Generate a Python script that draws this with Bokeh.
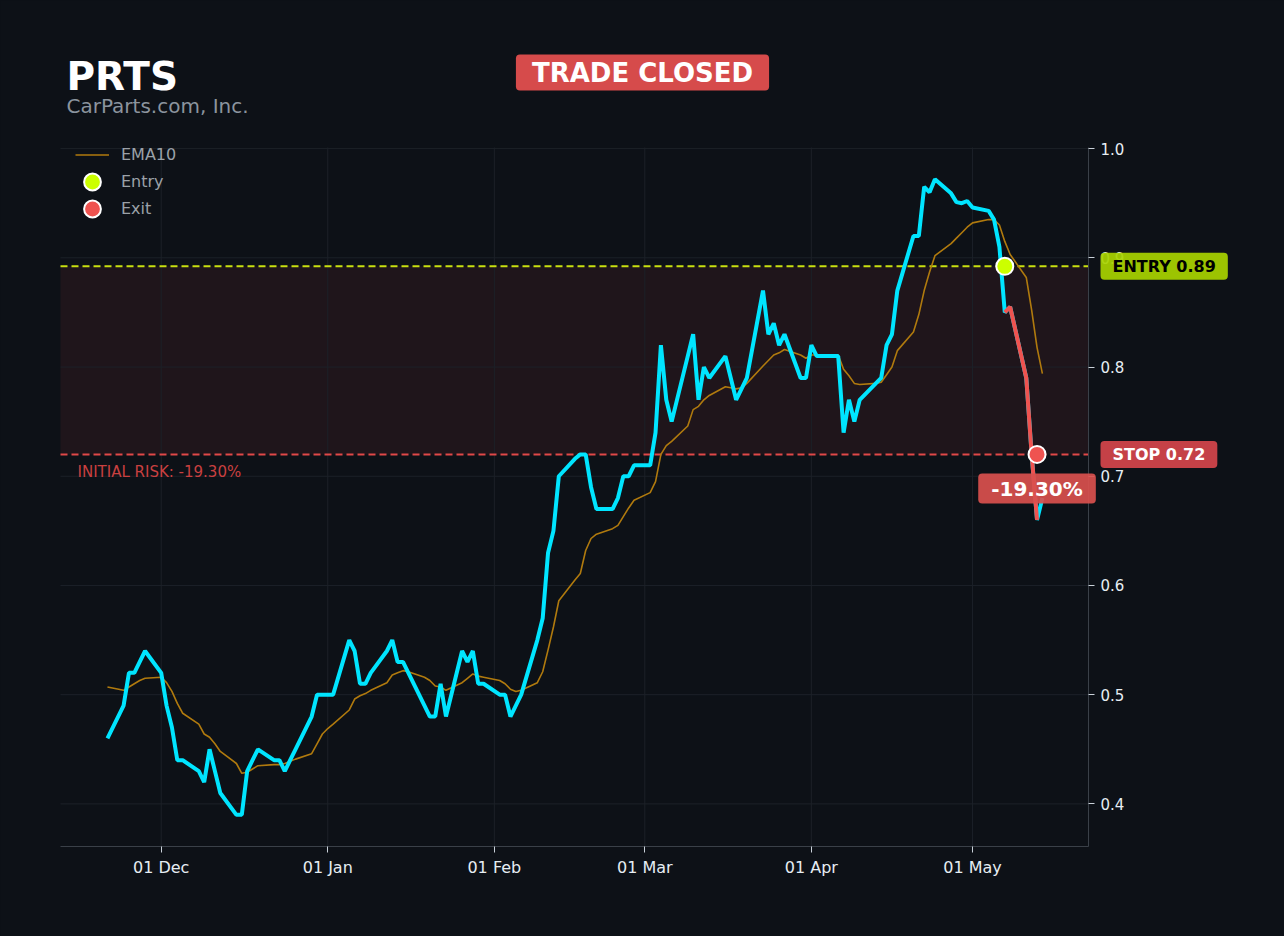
import pandas as pd
from bokeh.plotting import figure
from bokeh.models import (ColumnDataSource, Range1d, FixedTicker, PrintfTickFormatter,
                          DatetimeTickFormatter, BoxAnnotation, Label, Legend, LegendItem)
from bokeh.embed import file_html
from bokeh.resources import INLINE

# ---------------- data ----------------
symbol = "PRTS"
company = "CarParts.com, Inc."
status = "TRADE CLOSED"

# trading sessions 22 Nov 2024 - 15 May 2025 (weekdays)
sessions = pd.bdate_range("2024-11-22", "2025-05-15")

close_nov = [0.46, 0.49, 0.52, 0.52, 0.53, 0.54]
close_dec = [0.52, 0.49, 0.47, 0.44, 0.44,
             0.43, 0.42, 0.45, 0.43, 0.41,
             0.39, 0.39, 0.43, 0.44, 0.45,
             0.44, 0.44, 0.43, 0.44, 0.45,
             0.48, 0.50]
close_jan = [0.50, 0.50, 0.50,
             0.55, 0.54, 0.51, 0.51, 0.52,
             0.54, 0.55, 0.53, 0.53, 0.52,
             0.49, 0.48, 0.48, 0.51, 0.48,
             0.54, 0.53, 0.54, 0.51, 0.51]
close_feb = [0.50, 0.50, 0.48, 0.49, 0.50,
             0.55, 0.57, 0.63, 0.65, 0.70,
             0.716, 0.72, 0.72, 0.69, 0.67,
             0.67, 0.68, 0.70, 0.70, 0.71]
close_mar = [0.71, 0.74, 0.82, 0.77, 0.75,
             0.81, 0.83, 0.77, 0.80, 0.79,
             0.81, 0.79, 0.77, 0.78, 0.79,
             0.87, 0.83, 0.84, 0.82, 0.83,
             0.79]
close_apr = [0.79, 0.82, 0.81, 0.81,
             0.81, 0.74, 0.77, 0.75, 0.77,
             0.785, 0.79, 0.82, 0.83, 0.87,
             0.92, 0.92, 0.965, 0.96, 0.972,
             0.959, 0.951, 0.95]
close_may = [0.952, 0.946,
             0.943, 0.935, 0.91, 0.85, 0.855,
             0.79, 0.72, 0.66, 0.68]

ema_nov = [0.507, 0.504, 0.507, 0.510, 0.513, 0.515]
ema_dec = [0.516, 0.511, 0.503, 0.492, 0.483,
           0.473, 0.464, 0.461, 0.455, 0.448,
           0.437, 0.428, 0.429, 0.432, 0.435,
           0.436, 0.436, 0.437, 0.439, 0.441,
           0.446, 0.455]
ema_jan = [0.464, 0.469, 0.473,
           0.486, 0.496, 0.499, 0.501, 0.504,
           0.511, 0.518, 0.520, 0.522, 0.521,
           0.516, 0.513, 0.508, 0.507, 0.504,
           0.511, 0.515, 0.519, 0.517, 0.516]
ema_feb = [0.513, 0.510, 0.505, 0.503, 0.504,
           0.511, 0.521, 0.541, 0.562, 0.586,
           0.605, 0.611, 0.632, 0.643, 0.647,
           0.652, 0.655, 0.663, 0.671, 0.678]
ema_mar = [0.685, 0.695, 0.720, 0.728, 0.732,
           0.746, 0.761, 0.764, 0.770, 0.774,
           0.782, 0.781, 0.780, 0.781, 0.785,
           0.801, 0.806, 0.811, 0.813, 0.816,
           0.811]
ema_apr = [0.808, 0.811, 0.811, 0.811,
           0.811, 0.798, 0.792, 0.785, 0.784,
           0.785, 0.786, 0.793, 0.800, 0.815,
           0.832, 0.848, 0.870, 0.887, 0.902,
           0.913, 0.918, 0.923]
ema_may = [0.928, 0.932,
           0.935, 0.935, 0.930, 0.915, 0.903,
           0.882, 0.852, 0.818, 0.794]

close = close_nov + close_dec + close_jan + close_feb + close_mar + close_apr + close_may
ema10 = ema_nov + ema_dec + ema_jan + ema_feb + ema_mar + ema_apr + ema_may

entry_date = "2025-05-08"
exit_date = "2025-05-14"
entry_price = 0.8922
stop_price = 0.72
exit_price = 0.72

y_ticks = [0.4, 0.5, 0.6, 0.7, 0.8, 0.9, 1.0]
month_ticks = ["2024-12-01", "2025-01-01", "2025-02-01", "2025-03-01", "2025-04-01", "2025-05-01"]

# ---------------- styling ----------------
BG = "#0d1117"
CYAN = "#00e5ff"
EMA_C = "#b07a0e"
RED = "#ef5350"
YG = "#ccff00"
GRID = "#1c2128"
FONT = "DejaVu Sans"
W, H = 1284, 936

# sessions are drawn one calendar day earlier on this chart's time axis
shift = pd.Timedelta(days=1)
plot_dates = sessions - shift
entry_x = pd.Timestamp(entry_date) - shift
exit_x = pd.Timestamp(exit_date) - shift

src = ColumnDataSource(dict(date=plot_dates, close=close, ema=ema10))
mask = (plot_dates >= entry_x) & (plot_dates <= exit_x)
trade_src = ColumnDataSource(dict(date=plot_dates[mask],
                                  close=[c for c, m in zip(close, mask) if m]))

# visible plotting panel (page pixels) and the data extent it shows
PL, PR, PT, PB = 60, 1088, 147, 846
x0 = pd.Timestamp("2024-11-12 06:14").value / 1e6
x1 = pd.Timestamp("2025-05-22 13:55").value / 1e6
y0, y1 = 0.361, 1.001
kx = (x1 - x0) / (PR - PL)
ky = (y1 - y0) / (PB - PT)


def px_x(px):
    return x0 + (px - PL) * kx


def px_y(py):
    return y1 - (py - PT) * ky


p = figure(width=W, height=H, x_axis_type="datetime", y_axis_location="right",
           x_range=Range1d(px_x(0), px_x(W)), y_range=Range1d(px_y(H), px_y(0)),
           output_backend="svg", toolbar_location=None, min_border=0,
           background_fill_color=BG, border_fill_color=BG, outline_line_color=None)
p.title.visible = False
p.xgrid.visible = False
p.ygrid.visible = False

# grid lines limited to the panel
month_ms = [pd.Timestamp(t).value / 1e6 for t in month_ticks]
p.segment(x0=month_ms, x1=month_ms, y0=[y0] * len(month_ms), y1=[y1] * len(month_ms),
          line_color=GRID, line_width=1)
p.segment(x0=[x0] * len(y_ticks), x1=[x1] * len(y_ticks), y0=y_ticks, y1=y_ticks,
          line_color=GRID, line_width=1)

xa = p.xaxis[0]
xa.ticker = FixedTicker(ticks=month_ms)
fmt = "%d %b"
xa.formatter = DatetimeTickFormatter(microseconds=fmt, milliseconds=fmt, seconds=fmt, minsec=fmt,
                                     minutes=fmt, hourmin=fmt, hours=fmt, days=fmt,
                                     months=fmt, years=fmt)
xa.fixed_location = y0
xa.bounds = (x0, x1)
ya = p.yaxis[0]
ya.ticker = FixedTicker(ticks=y_ticks)
ya.formatter = PrintfTickFormatter(format="%.1f")
ya.fixed_location = x1
ya.bounds = (y0, y1)
for ax, fs, so in ((xa, "16px", 5), (ya, "15px", 6)):
    ax.axis_line_color = "#3a4048"
    ax.major_tick_line_color = "#c9d1d9"
    ax.major_tick_out = 6
    ax.major_tick_in = 0
    ax.minor_tick_line_color = None
    ax.major_label_text_color = "#e6edf3"
    ax.major_label_text_font = FONT
    ax.major_label_text_font_size = fs
    ax.major_label_standoff = so

band = BoxAnnotation(left=x0, right=x1, bottom=stop_price, top=entry_price,
                     fill_color="#ff4848", fill_alpha=0.08, line_alpha=0, level="underlay")
p.add_layout(band)
p.segment(x0=[x0, x0], x1=[x1, x1], y0=[entry_price, stop_price], y1=[entry_price, stop_price],
          line_color=["#c8e010", "#e04848"], line_dash="7 4", line_width=2)

ema_r = p.line("date", "ema", source=src, line_color=EMA_C, line_width=1.6)
p.line("date", "close", source=src, line_color=CYAN, line_width=4)
p.line("date", "close", source=trade_src, line_color=RED, line_width=4)
entry_r = p.scatter(x=[entry_x], y=[entry_price], size=17, fill_color=YG,
                    line_color="white", line_width=2)
exit_r = p.scatter(x=[exit_x], y=[exit_price], size=17, fill_color=RED,
                   line_color="white", line_width=2)

# legend swatches: white ring + coloured disc (not drawn on the plot itself)
def swatch(x, y, color):
    ring = p.scatter(x=[x], y=[y], size=10, fill_color="white", line_color="white",
                     line_width=8, visible=False)
    disc = p.scatter(x=[x], y=[y], size=10, fill_color=color, line_color=color,
                     line_width=4, visible=False)
    return [ring, disc]


legend = Legend(items=[LegendItem(label="EMA10", renderers=[ema_r]),
                       LegendItem(label="Entry", renderers=swatch(entry_x, entry_price, YG)),
                       LegendItem(label="Exit", renderers=swatch(exit_x, exit_price, RED))],
                location=(75, H - 222), glyph_width=34, glyph_height=27, spacing=0,
                padding=0, margin=0, label_standoff=12, label_height=27,
                label_text_font=FONT, label_text_font_size="16px", label_text_color="#9ba1a8",
                background_fill_alpha=0, border_line_alpha=0)
p.add_layout(legend)

risk_pct = (stop_price / entry_price - 1) * 100

labels = [
    Label(x=px_x(66), y=px_y(75.5), text=symbol, text_font=FONT, text_font_style="bold",
          text_font_size="39px", text_color="white", text_baseline="middle"),
    Label(x=px_x(66), y=px_y(105.5), text=company, text_font=FONT,
          text_font_size="20px", text_color="#8b949e", text_baseline="middle"),
    Label(x=px_x(642), y=px_y(72), text=status, text_font=FONT, text_font_style="bold",
          text_font_size="26px", text_color="white", text_align="center", text_baseline="middle",
          background_fill_color="#d64b4b", padding=(16, 3), border_radius=4),
    Label(x=px_x(1100), y=entry_price, text=f"ENTRY {entry_price:.2f}", text_font=FONT,
          text_font_style="bold", text_font_size="16px", text_color="black",
          text_baseline="middle", background_fill_color="#a8d400", background_fill_alpha=0.92,
          padding=(12, 4), border_radius=4),
    Label(x=px_x(1100), y=stop_price, text=f"STOP {stop_price:.2f}", text_font=FONT,
          text_font_style="bold", text_font_size="16px", text_color="white",
          text_baseline="middle", background_fill_color="#d0454a", background_fill_alpha=0.95,
          padding=(12, 4), border_radius=4),
    Label(x=exit_x, y=px_y(488), text=f"{risk_pct:.2f}%", text_font=FONT,
          text_font_style="bold", text_font_size="20px", text_color="white",
          text_align="center", text_baseline="middle", background_fill_color="#d9504e",
          background_fill_alpha=0.92, padding=(13, 3), border_radius=4),
    Label(x=px_x(77), y=px_y(471), text=f"INITIAL RISK: {risk_pct:.2f}%", text_font=FONT,
          text_font_size="15px", text_color="#c94040", text_baseline="middle"),
]
for lab in labels:
    p.add_layout(lab)

html = file_html(p, INLINE)
html = html.replace("<body>", f'<body style="background:{BG};">', 1)
html = html.replace("<html", f'<html style="background:{BG};"', 1)
open("out.html", "w").write(html)
